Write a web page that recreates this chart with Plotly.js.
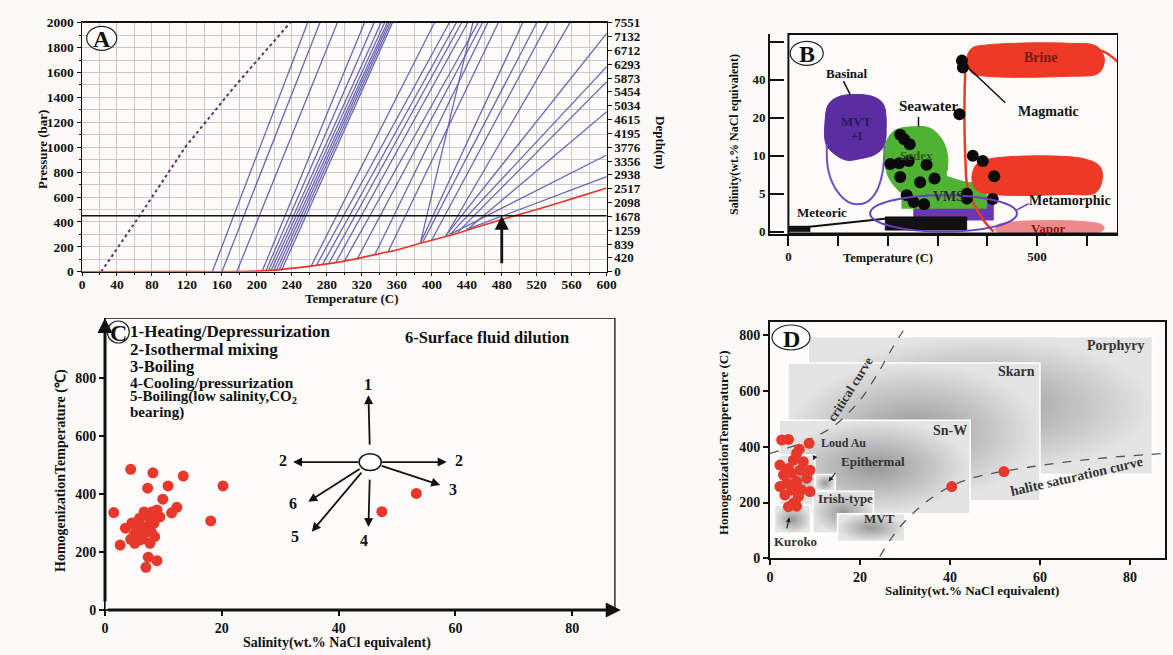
<!DOCTYPE html>
<html><head><meta charset="utf-8">
<script src="https://cdn.plot.ly/plotly-3.0.1.min.js"></script>
<style>html,body{margin:0;padding:0;background:#fcfaf7;}#chart{width:1173px;height:655px;}</style>
</head><body><div id="chart"></div>
<script>
// ================= Panel A : P-T with isochores =================
const aCurveT = [0,100,200,250,300,340,360,390,420,450,485,520,560,600];
const aCurveP = [0,1,5,35,85,145,175,235,290,355,430,500,585,672];
const aDashT = [22,66,118,176,238];
const aDashP = [0,450,1000,1500,2000];
const isoT0 = [149,160,177,206,210,213,216,219,222,225,228,262,268,275,282,290,300,315,335,350,387,387,390,400,416,416,421,430,440,421,440];
const isoP0 = [0,0,0,3,4,4,5,5,6,7,8,45,50,57,64,72,85,105,138,160,233,233,240,255,285,290,300,320,335,300,340];
const isoT1 = [258,272,292,323,334,342,346,349,351,353,355,403,420,428,434,441,453,458,464,476,447,504,520,533,558,600,600,600,600,600,600];
const isoP1 = [2000,2000,2000,2000,2000,2000,2000,2000,2000,2000,2000,2000,2000,2000,2000,2000,2000,2000,2000,2000,2000,2000,2000,2000,2000,1915,1647,1526,1285,937,763];
const depthTicks = [0,420,839,1259,1678,2098,2517,2938,3356,3776,4195,4615,5034,5454,5873,6293,6712,7132,7551];
const aTempTicks = [0,40,80,120,160,200,240,280,320,360,400,440,480,520,560,600];
const aPresTicks = [0,200,400,600,800,1000,1200,1400,1600,1800,2000];
const aRefPressure = 450, aRefTemp = 480;

// ================= Panel B : fluid types =================
const salKnots = [0,5,10,20,40,80];
function salPos(s){ for(let i=1;i<salKnots.length;i++){ if(s<=salKnots[i]) return (i-1)+(s-salKnots[i-1])/(salKnots[i]-salKnots[i-1]); } return salKnots.length-1; }
const mvtT = [75.8,73.8,80.5,100.7,134.2,171.1,191.3,196.6,192.6,174.5,144.3,117.4,94];
const mvtSal = [13.0,19.1,27,31,32.2,31,27,16.3,12.6,10.3,9.6,9.4,10.3];
const basinOutT = [77.2,80.5,97.3,120.8,137.6,157.7,177.8,189.9,193.3];
const basinOutSal = [13,8.0,5.4,3.9,3.6,3.9,5.4,8.0,12.6];
const sedexT = [194.6,198,214.8,251.7,285.2,308.7,320.1,317.4,305.4,278.5,251.7,231.5,214.8,201.3];
const sedexSal = [8.9,13.9,16.7,17.6,17.2,14.3,10,7.6,6.5,5.9,5.4,5.0,5.9,7.2];
const neckT = [312,322,355.7,305.4];
const neckSal = [7.8,7.2,6.5,6.3];
const vmsPurpleT = [251.7,412.7], vmsPurpleSal = [1.52,4.57];
const vmsGreenT = [228,399], vmsGreenSal = [3.04,6.5];
const metaT = [164.4,459.7], metaSal = [0,4.8];
const meteorBarT = [194.6,359], meteorBarSal = [0.2,1.96];
const meteorSmallT = [0,43.6], meteorSmallSal = [0,0.74];
const meteorLineT = [0,198], meteorLineSal = [0.35,1.74];
const brineT = [359,369,399.3,560.4,620.8,635.5,624.1,560.4,399.3,369];
const brineSal = [62.6,73.0,76.5,78.3,74.8,60.9,46.9,43.5,43.5,46.9];
const brineTailT = [620,640,664], brineTailSal = [72,68,58];
const magT = [355.7,354.3,354.3,356.4,359,369.1,392.6,412.7];
const magSal = [48.7,30.4,16.5,8.9,6.3,4.13,1.52,0];
const brine2T = [369.1,379.2,406,594,627.5,630.8,617.4,560.4,399.3,375.8];
const brine2Sal = [7.2,8.9,9.6,9.6,8.5,6.7,5.1,4.9,5.0,5.65];
const vaporT = [416,419.4,627.5,635.5,627.5,419.4];
const vaporSal = [0.22,0.87,1.0,0.43,0,0];
const bDotT = [349,351,344,225,233,244,205,223,242,278,225,265,294,238,252,273,359,359,411,371,391,414];
const bDotSal = [60,52.8,21.8,15.5,14.3,13,8.9,9,9.3,8.8,7.2,6.5,7,4.8,3.9,3.6,5,4.35,4.3,10,9.3,7.3];
const leaderBasinalT=[110.7,124.2], leaderBasinalSal=[39.2,32.2];
const leaderSeaT=[261.7,261.7], leaderSeaSal=[20.4,17.7];
const leaderMagT=[352.3,436.2], leaderMagSal=[57.2,27.8];
const leaderMetaT=[458.4,483.2], leaderMetaSal=[2.83,3.7];
const bSalTicks = [0,5,10,20,40,80];
const bSalTickText = ['0','5','10','20','40',''];
const bTempTicks = [0,100,200,300,400,500,600];
const bTempTickText = ['0','','','','','500',''];

// ================= Panel C : Th vs salinity with trends =================
const cSal = [4.4,8.2,13.4,20.2,10.8,7.3,9.9,1.5,12.3,11.4,18.1,2.6,4.4,3.5,4.6,5.4,5.9,6.7,7.4,8.0,8.9,9.4,8.4,7.1,5.9,7.7,8.5,6.8,5.1,7.4,8.9,7.0,6.2,5.0,7.9,6.5,8.0,53.3,47.4];
const cTh  = [485,473,462,428,428,420,382,336,354,335,307,224,244,282,300,276,316,338,321,338,345,321,300,288,241,230,253,264,230,182,170,147,290,260,270,245,310,402,339];
const cCenter = [45.4,510];
const cTrendLabels = ['1','2','2','3','4','5','6'];
const cTrendTipX = [45.1,58.5,32.2,57.4,45.1,35.4,34.8];
const cTrendTipY = [741,510,510,431,286,270,373];
const salTicks = [0,20,40,60,80];
const thTicks = [0,200,400,600,800];

// ================= Panel D : deposit fields =================
const dRegion = ['Porphyry','Skarn','Sn-W','Loud Au','Epithermal','Irish-type','Kuroko','MVT'];
const dX0 = [8.5,4,2,2,10,9.5,1,15];
const dX1 = [85,60,44.5,10,14.5,23,9,30];
const dY0 = [300,205,160,190,240,90,90,60];
const dY1 = [795,700,495,370,300,240,190,160];
const critX = [0,6.7,14,20,24.4,27.4,30.7];
const critY = [376,412,472,567,675,759,842];
const halX = [24.4,28.9,36.3,43.7,58.5,73.3,87.8];
const halY = [6,113,221,281,329,358,376];
const dSal = [2.6,4.1,6.5,8.7,2.2,5.2,7.4,8.9,3.0,4.8,6.7,8.2,3.7,5.9,2.2,4.8,7.0,8.9,3.3,6.3,5.2,4.1,5.9,4.1,5.9,40.4,52.0];
const dTh  = [424,426,391,412,334,352,346,316,299,305,316,287,269,275,257,245,245,239,227,221,197,185,187,322,376,257,311];

// ================= build =================
const W=1173,H=655;
const PX=v=>v/W, PY=v=>1-v/H;
const FONT='Liberation Serif, Times New Roman, serif';
const B=t=>'<b>'+t+'</b>';
const traces=[];
// Panel A
const isoX=[],isoY=[];
for(let i=0;i<isoT0.length;i++){isoX.push(isoT0[i],isoT1[i],null);isoY.push(isoP0[i],isoP1[i],null);}
traces.push({x:isoX,y:isoY,xaxis:'x',yaxis:'y',mode:'lines',line:{color:'#5b56aa',width:1.3},opacity:0.9,hoverinfo:'skip'});
traces.push({x:aDashT,y:aDashP,xaxis:'x',yaxis:'y',mode:'lines',line:{color:'#6a2c6e',width:2,dash:'dot'},hoverinfo:'skip'});
traces.push({x:aCurveT,y:aCurveP,xaxis:'x',yaxis:'y',mode:'lines',line:{color:'#e5352b',width:1.6,shape:'spline'},hoverinfo:'skip'});
traces.push({x:[0,600],y:[aRefPressure,aRefPressure],xaxis:'x',yaxis:'y',mode:'lines',line:{color:'#111',width:1.5},hoverinfo:'skip'});
traces.push({x:[null],y:[null],xaxis:'x',yaxis:'y5',mode:'lines',hoverinfo:'skip'});

// Panel B
const xb='x2',yb='y2';
function polyB(T,S,fill,line,lw,spline){return {x:T.concat([T[0]]),y:S.concat([S[0]]).map(salPos),xaxis:xb,yaxis:yb,mode:'lines',fill:fill?'toself':'none',fillcolor:fill||undefined,line:{color:line||fill,width:lw||0,shape:spline?'spline':'linear'},hoverinfo:'skip'};}
function rectB(T,S,fill){return polyB([T[0],T[1],T[1],T[0]],[S[0],S[0],S[1],S[1]],fill,fill,0.5,false);}
function lineB(T,S,color,w,spline){return {x:T,y:S.map(salPos),xaxis:xb,yaxis:yb,mode:'lines',line:{color:color,width:w,shape:spline?'spline':'linear'},hoverinfo:'skip'};}
traces.push(polyB(mvtT,mvtSal,'#5a2ea0','#5a2ea0',1,true));
traces.push(lineB(basinOutT,basinOutSal,'#6a50c4',2,true));
traces.push(rectB(vmsPurpleT,vmsPurpleSal,'#6b36b4'));
traces.push(polyB(sedexT,sedexSal,'#4fb233','#4fb233',1,true));
traces.push(polyB(neckT,neckSal,'#4fb233','#4fb233',1,false));
traces.push(rectB(vmsGreenT,vmsGreenSal,'#4fb233'));
traces.push(rectB(meteorBarT,meteorBarSal,'#111'));
traces.push(rectB(meteorSmallT,meteorSmallSal,'#111'));
traces.push(lineB(meteorLineT,meteorLineSal,'#111',2));
traces.push(polyB(brineT,brineSal,'#ec3a24','#ec3a24',1,true));
traces.push(lineB(brineTailT,brineTailSal,'#ec3a24',2.5,true));
traces.push(lineB(magT,magSal,'#ec3a24',2.5,true));
traces.push(polyB(brine2T,brine2Sal,'#ec3a24','#ec3a24',1,true));
traces.push(polyB(vaporT,vaporSal,'#f08a8a','#f08a8a',1,true));
traces.push(lineB(leaderBasinalT,leaderBasinalSal,'#111',1.5));
traces.push(lineB(leaderSeaT,leaderSeaSal,'#111',1.5));
traces.push(lineB(leaderMagT,leaderMagSal,'#111',1.5));
traces.push(lineB(leaderMetaT,leaderMetaSal,'#5a3fb0',1.5));
traces.push({x:bDotT,y:bDotSal.map(salPos),xaxis:xb,yaxis:yb,mode:'markers',marker:{color:'#0a0a0a',size:12},hoverinfo:'skip'});

// Panel C
traces.push({x:cSal,y:cTh,xaxis:'x3',yaxis:'y3',mode:'markers',marker:{color:'#e8372b',size:11},hoverinfo:'skip'});

// Panel D
for(let i=0;i<dRegion.length;i++){
  traces.push({x:[dX0[i],dX1[i],dX1[i],dX0[i],dX0[i]],y:[dY0[i],dY0[i],dY1[i],dY1[i],dY0[i]],xaxis:'x4',yaxis:'y4',mode:'lines',fill:'toself',
    fillcolor:'#c0c0c0',fillgradient:{type:'radial',colorscale:[[0,'#979797'],[1,'#e4e4e4']]},line:{color:'#ffffff',width:1.5},hoverinfo:'skip'});
}
traces.push({x:critX,y:critY,xaxis:'x4',yaxis:'y4',mode:'lines',line:{color:'#555',width:1.3,dash:'dash',shape:'spline'},hoverinfo:'skip'});
traces.push({x:halX,y:halY,xaxis:'x4',yaxis:'y4',mode:'lines',line:{color:'#555',width:1.3,dash:'dash',shape:'spline'},hoverinfo:'skip'});
traces.push({x:dSal,y:dTh,xaxis:'x4',yaxis:'y4',mode:'markers',marker:{color:'#e8372b',size:11},hoverinfo:'skip'});

const tf=(s)=>({family:FONT,size:s||13,color:'#111'});
const ann=[];
function A(o){const a=Object.assign({showarrow:false,font:tf(13),xanchor:'center',yanchor:'middle'},o);a.text=B(a.text);ann.push(a);}
// axis titles
A({xref:'paper',yref:'paper',x:PX(43),y:PY(150),text:'Pressure (bar)',textangle:-90,font:tf(13)});
A({xref:'paper',yref:'paper',x:PX(352),y:PY(298),text:'Temperature (C)',font:tf(13)});
A({xref:'paper',yref:'paper',x:PX(661),y:PY(142),text:'Depth(m)',textangle:90,font:tf(13)});
A({xref:'paper',yref:'paper',x:PX(734),y:PY(135),text:'Salinity(wt.% NaCl equivalent)',textangle:-90,font:tf(12)});
A({xref:'paper',yref:'paper',x:PX(888),y:PY(258),text:'Temperature (C)',font:tf(12.5)});
A({xref:'paper',yref:'paper',x:PX(61),y:PY(471),text:'HomogenizationTemperature (℃)',textangle:-90,font:tf(14)});
A({xref:'paper',yref:'paper',x:PX(337),y:PY(643),text:'Salinity(wt.% NaCl equivalent)',font:tf(14)});
A({xref:'paper',yref:'paper',x:PX(723),y:PY(442),text:'HomogenizationTemperature (C)',textangle:-90,font:tf(13)});
A({xref:'paper',yref:'paper',x:PX(972),y:PY(590),text:'Salinity(wt.% NaCl equivalent)',font:tf(13)});
// panel letters
const letters=[['A',101.7,38.3,30,24],['B',806.7,53.3,33,24],['C',118.3,332,22,22],['D',791,337.5,38,25]];
const shapes=[];
letters.forEach(l=>{shapes.push({type:'circle',xref:'paper',yref:'paper',x0:PX(l[1]-l[3]/2),x1:PX(l[1]+l[3]/2),y0:PY(l[2]+l[4]/2),y1:PY(l[2]-l[4]/2),line:{color:'#222',width:1.2},fillcolor:'rgba(255,255,255,0.9)',layer:'above'});
  A({xref:'paper',yref:'paper',x:PX(l[1]),y:PY(l[2]+1),text:l[0],font:tf(24)});});
// Panel A arrow
ann.push({xref:'x',yref:'y',axref:'x',ayref:'y',x:aRefTemp,y:aRefPressure,ax:aRefTemp,ay:0,showarrow:true,arrowhead:2,arrowsize:1,arrowwidth:2.8,arrowcolor:'#111',text:' '});
// Panel B labels
function BL(t,T,s,size,color){A({xref:'x2',yref:'y2',x:T,y:salPos(s),text:t,font:Object.assign(tf(size||13),{color:color||'#111'})});}
BL('Basinal',117,46.9,13); BL('Seawater',282,26,15); BL('Magmatic',523,23.4,14); BL('Brine',507,62.8,14,'#7a1812');
BL('Metamorphic',567,4.13,14); BL('Meteoric',67,2.5,13); BL('Vapor',523,0.43,13,'#7a1812'); BL('VMS',322,4.6,14,'#2a2a2a');
BL('Sedex',258,10,13,'#2e5e1e'); BL('MVT',137.6,19.1,13,'#2a1a55'); BL('+I',137,15.2,12,'#2a1a55');
// Panel C legend text
const cl=[['1-Heating/Depressurization',331,17],['2-Isothermal mixing',349,17],['3-Boiling',366.5,16.5],['4-Cooling/pressurization',382,15.5],['5-Boiling(low salinity,CO<sub>2</sub>',397.5,15],['bearing)',412,15]];
cl.forEach(c=>A({xref:'paper',yref:'paper',x:PX(128),y:PY(c[1]),xanchor:'left',text:c[0],font:tf(c[2])}));
A({xref:'paper',yref:'paper',x:PX(403),y:PY(337),xanchor:'left',text:'6-Surface fluid dilution',font:tf(16.5)});
// Panel C axes arrows
ann.push({xref:'x3',yref:'y3',axref:'x3',ayref:'y3',x:0,y:1007,ax:0,ay:0,showarrow:true,arrowhead:2,arrowsize:1,arrowwidth:3,arrowcolor:'#111',text:' '});
ann.push({xref:'x3',yref:'y3',axref:'x3',ayref:'y3',x:88.3,y:0,ax:0,ay:0,showarrow:true,arrowhead:2,arrowsize:1,arrowwidth:3,arrowcolor:'#111',text:' '});
// Panel C trend arrows
const labOff=[[0,35],[2.1,4],[-1.8,4],[2.2,-17],[-0.8,-45],[-2.9,-15],[-2.6,-4]];
for(let i=0;i<cTrendLabels.length;i++){
  ann.push({xref:'x3',yref:'y3',axref:'x3',ayref:'y3',x:cTrendTipX[i],y:cTrendTipY[i],ax:cCenter[0],ay:cCenter[1],showarrow:true,arrowhead:2,arrowsize:1,arrowwidth:1.8,arrowcolor:'#111',startstandoff:9,text:' '});
  A({xref:'x3',yref:'y3',x:cTrendTipX[i]+labOff[i][0],y:cTrendTipY[i]+labOff[i][1],text:cTrendLabels[i],font:tf(16)});
}
shapes.push({type:'circle',xref:'x3',yref:'y3',x0:cCenter[0]-1.9,x1:cCenter[0]+1.9,y0:cCenter[1]-29,y1:cCenter[1]+29,line:{color:'#111',width:1.5},fillcolor:'#ffffff',layer:'above'});
shapes.push({type:'rect',xref:'x3',yref:'y3',x0:0,x1:87.3,y0:0,y1:1007,line:{color:'#111',width:1.3},layer:'below'});
// Panel B box
shapes.push({type:'rect',xref:'x2',yref:'y2 domain',x0:0,x1:663,y0:0,y1:1,line:{color:'#111',width:2},layer:'above'});
shapes.push({type:'circle',xref:'x2',yref:'y2',x0:metaT[0],x1:metaT[1],y0:salPos(metaSal[0]),y1:salPos(metaSal[1]),line:{color:'#6a40c2',width:2},layer:'above'});
// Panel D labels
function DL(t,x,y,size){A({xref:'x4',yref:'y4',x:x,y:y,text:t,font:Object.assign(tf(size||13),{color:'#333'})});}
DL('Porphyry',77,764,14); DL('Skarn',54.8,669,14); DL('Sn-W',40,457,14); DL('Loud Au',16.3,414,12);
DL('Epithermal',23,346,13); DL('Irish-type',16.7,215,13); DL('MVT',24.4,143,13); DL('Kuroko',5.6,62,13);
A({xref:'x4',yref:'y4',x:17.8,y:604,text:'critical curve',textangle:-58,font:Object.assign(tf(13),{color:'#333'})});
A({xref:'x4',yref:'y4',x:68.1,y:292,text:'halite saturation curve',textangle:-13,font:Object.assign(tf(14),{color:'#333'})});
[[9.6,351,10.7,392],[13,275,15.2,319],[4.3,147,3.3,77]].forEach(a=>ann.push({xref:'x4',yref:'y4',axref:'x4',ayref:'y4',x:a[0],y:a[1],ax:a[2],ay:a[3],showarrow:true,arrowhead:2,arrowsize:0.8,arrowwidth:1.2,arrowcolor:'#222',text:' '}));

const bt=a=>a.map(v=>B(String(v)));
const axBase={showgrid:false,zeroline:false,tickfont:tf(13),ticks:'outside',tickcolor:'#111',linecolor:'#111',tickmode:'array'};
const layout={width:W,height:H,margin:{l:0,r:0,t:0,b:0},paper_bgcolor:'#fcfaf7',plot_bgcolor:'#fdfcfa',showlegend:false,
  font:{family:FONT,color:'#111'},
  xaxis:Object.assign({},axBase,{domain:[PX(82),PX(606.7)],range:[0,600],tickvals:aTempTicks,ticktext:bt(aTempTicks),tickfont:tf(13.5),ticklabelstandoff:-3,showgrid:true,gridcolor:'#c9c9c9',showline:true,mirror:true,linewidth:1.5,ticklen:3,anchor:'y',
    minor:{dtick:20,showgrid:true,gridcolor:'#c9c9c9',ticks:'outside',ticklen:2}}),
  yaxis:Object.assign({},axBase,{domain:[PY(271.7),PY(22.7)],range:[0,2000],tickvals:aPresTicks,ticktext:bt(aPresTicks),tickfont:tf(13.5),showgrid:true,gridcolor:'#c9c9c9',showline:true,mirror:true,linewidth:1.5,ticklen:4,anchor:'x',
    minor:{dtick:100,showgrid:true,gridcolor:'#c9c9c9',ticks:'outside',ticklen:2}}),
  yaxis5:Object.assign({},axBase,{overlaying:'y',side:'right',anchor:'x',range:[0,7551],tickvals:depthTicks,ticktext:bt(depthTicks),tickfont:tf(13),ticklen:4}),
  xaxis2:Object.assign({},axBase,{domain:[PX(770),PX(1118)],range:[-37,663],tickvals:bTempTicks,ticktext:bt(bTempTickText),ticklen:10,tickwidth:2,showline:true,linewidth:2,anchor:'y2'}),
  yaxis2:Object.assign({},axBase,{domain:[PY(233.5),PY(34)],range:[-0.047,5.2],tickvals:bSalTicks.map(salPos),ticktext:bt(bSalTickText),ticks:'inside',ticklen:14,tickwidth:2,showline:true,linewidth:2,anchor:'x2'}),
  xaxis3:Object.assign({},axBase,{domain:[PX(105),PX(619)],range:[0,88],tickvals:salTicks,ticktext:bt(salTicks),ticklen:5,tickwidth:2,tickfont:tf(14),anchor:'y3'}),
  yaxis3:Object.assign({},axBase,{domain:[PY(610),PY(318)],range:[0,1007],tickvals:thTicks,ticktext:bt(thTicks),ticklen:5,tickwidth:2,tickfont:tf(14),anchor:'x3'}),
  xaxis4:Object.assign({},axBase,{domain:[PX(770),PX(1165)],range:[0,87.8],tickvals:salTicks,ticktext:bt(salTicks),ticklen:5,tickwidth:2,tickfont:tf(14),showline:true,mirror:true,linewidth:2,anchor:'y4'}),
  yaxis4:Object.assign({},axBase,{domain:[PY(558.3),PY(321.7)],range:[0,848],tickvals:thTicks,ticktext:bt(thTicks),ticklen:5,tickwidth:2,tickfont:tf(14),showline:true,mirror:true,linewidth:2,anchor:'x4'}),
  annotations:ann,shapes:shapes};
Plotly.newPlot('chart',traces,layout,{displayModeBar:false,staticPlot:true});
</script></body></html>
